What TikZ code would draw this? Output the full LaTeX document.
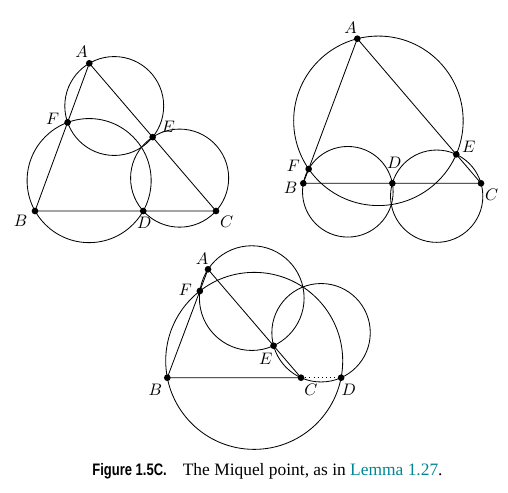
\documentclass[tikz,border=0pt]{standalone}
\usepackage{fontspec}
\setmainfont{Liberation Serif}
\newfontfamily\figfont[FakeStretch=0.78]{Liberation Sans}
\usetikzlibrary{calc}
\definecolor{lemmateal}{RGB}{0,134,150}

% circle through three named points
\newcommand\threecirc[3]{%
  \draw let \p1=(#1), \p2=(#2), \p3=(#3),
    \n1={(\x2-\x1)/10}, \n2={(\y2-\y1)/10},
    \n3={(\x3-\x1)/10}, \n4={(\y3-\y1)/10},
    \n5={2*(\n1*\n4-\n2*\n3)},
    \n6={(\n4*(\n1*\n1+\n2*\n2)-\n2*(\n3*\n3+\n4*\n4))/\n5},
    \n7={(\n1*(\n3*\n3+\n4*\n4)-\n3*(\n1*\n1+\n2*\n2))/\n5},
    \p4=(\x1+10*\n6,\y1+10*\n7)
  in (\p4) circle [radius={veclen(\x4-\x1,\y4-\y1)}];}

\begin{document}
\begin{tikzpicture}[
    x=0.6pt, y=-0.6pt,
    line width=0.5pt,
    lab/.style={font=\normalsize, inner sep=0pt},
  ]
  \useasboundingbox (0,0) rectangle (508,492);

  % left triangle
  \coordinate (A1) at (89.3,63.3);
  \coordinate (B1) at (35,211);
  \coordinate (C1) at (216,211);
  \coordinate (F1) at ($(A1)!0.4!(B1)$);
  \coordinate (E1) at ($(A1)!0.5!(C1)$);
  \coordinate (D1) at ($(B1)!0.598!(C1)$);

  % right triangle
  \coordinate (A2) at (357.3,38.7);
  \coordinate (B2) at (303.3,183.3);
  \coordinate (C2) at (481,183.3);
  \coordinate (F2) at ($(A2)!0.901!(B2)$);
  \coordinate (E2) at ($(A2)!0.8!(C2)$);
  \coordinate (D2) at ($(B2)!0.501!(C2)$);

  % lower triangle, D outside BC
  \coordinate (A3) at (208,269.3);
  \coordinate (B3) at (167.3,377.7);
  \coordinate (C3) at (301,377.7);
  \coordinate (F3) at ($(A3)!0.2!(B3)$);
  \coordinate (E3) at ($(A3)!0.705!(C3)$);
  \coordinate (D3) at ($(B3)!1.3!(C3)$);

  \foreach \k in {1,2,3} {
      \draw (A\k) -- (B\k) -- (C\k) -- cycle;
      \threecirc{A\k}{F\k}{E\k}
      \threecirc{B\k}{D\k}{F\k}
      \threecirc{C\k}{E\k}{D\k}
      \foreach \p in {A,B,C,D,E,F} {
          \fill (\p\k) circle [radius=2pt];
        }
    }
  \draw[dotted] (C3) -- (D3);

  \node[lab] (lA1) at (81.7,52) {$A$};
  \node[lab] (lF1) at (52.7,119) {$F$};
  \node[lab] (lE1) at (168.3,127.3) {$E$};
  \node[lab] (lB1) at (20.7,221) {$B$};
  \node[lab] (lD1) at (144.3,222.7) {$D$};
  \node[lab] (lC1) at (226.7,221.7) {$C$};

  \node[lab] (lA2) at (350.7,28.3) {$A$};
  \node[lab] (lF2) at (293.3,165.7) {$F$};
  \node[lab] (lE2) at (468.7,146.7) {$E$};
  \node[lab] (lB2) at (290.7,188.3) {$B$};
  \node[lab] (lD2) at (394.3,163.3) {$D$};
  \node[lab] (lC2) at (491.7,195) {$C$};

  \node[lab] (lA3) at (202,259) {$A$};
  \node[lab] (lF3) at (185.3,290) {$F$};
  \node[lab] (lE3) at (265.7,359) {$E$};
  \node[lab] (lB3) at (155.3,390) {$B$};
  \node[lab] (lC3) at (311,390) {$C$};
  \node[lab] (lD3) at (348.7,390) {$D$};

  % caption
  \node[anchor=base west, inner sep=0pt, font=\figfont\bfseries] (capnum) at (92,475)
    {Figure 1.5C.};
  \node[anchor=base east, inner sep=0pt, font=\fontsize{10.45}{12}\selectfont] (captext) at (443,475)
    {The Miquel point, as in \textcolor{lemmateal}{Lemma 1.27}.};
\end{tikzpicture}
\end{document}
